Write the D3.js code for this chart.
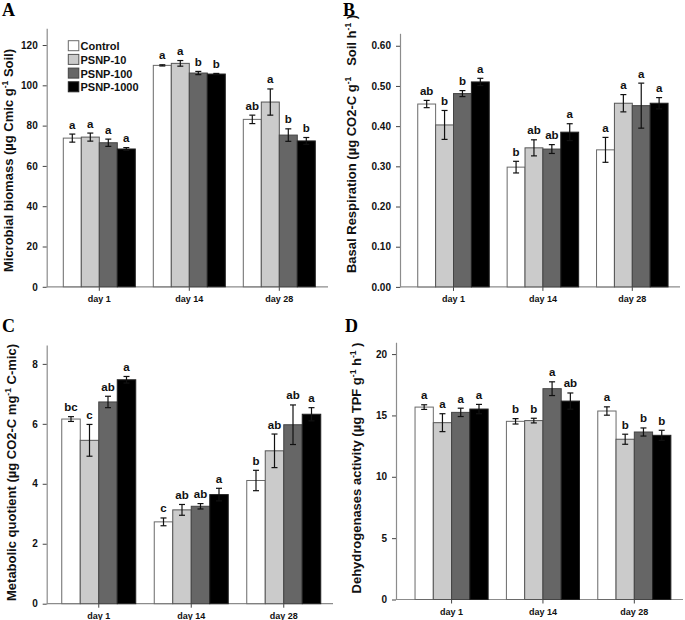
<!DOCTYPE html>
<html>
<head>
<meta charset="utf-8">
<script src="https://cdn.jsdelivr.net/npm/d3@7"></script>
<style>
  html, body { margin: 0; padding: 0; background: #fff; }
  text { white-space: pre; }
</style>
</head>
<body>
<script>
// ---------- DATA ----------
const days = ["day 1", "day 14", "day 28"];
const treatments = ["Control", "PSNP-10", "PSNP-100", "PSNP-1000"];

// A: Microbial biomass (rows = days, cols = treatments)
const biomassMean = [[73.8, 74.3, 71.5, 68.4], [109.9, 110.9, 106.1, 105.6], [83.1, 91.7, 75.3, 72.4]];
const biomassErr  = [[2.0, 2.0, 1.8, 0.7], [0.3, 1.4, 0.8, 0.3], [2.1, 6.5, 3.1, 1.7]];
const biomassSig  = [["a", "a", "a", "a"], ["a", "a", "b", "b"], ["ab", "a", "b", "b"]];
const biomassTicks = [0, 20, 40, 60, 80, 100, 120];

// B: Basal respiration
const respMean = [[0.455, 0.403, 0.481, 0.510], [0.298, 0.346, 0.343, 0.385], [0.341, 0.457, 0.451, 0.457]];
const respErr  = [[0.009, 0.036, 0.0075, 0.009], [0.0145, 0.020, 0.011, 0.021], [0.031, 0.0215, 0.056, 0.014]];
const respSig  = [["ab", "b", "b", "a"], ["b", "ab", "ab", "a"], ["a", "a", "a", "a"]];
const respTicks = [0, 0.1, 0.2, 0.3, 0.4, 0.5, 0.6];

// C: Metabolic quotient
const qMean = [[6.16, 5.45, 6.73, 7.47], [2.73, 3.13, 3.25, 3.64], [4.11, 5.10, 5.97, 6.32]];
const qErr  = [[0.08, 0.53, 0.19, 0.11], [0.13, 0.18, 0.09, 0.21], [0.34, 0.56, 0.66, 0.22]];
const qSig  = [["bc", "c", "ab", "a"], ["c", "ab", "ab", "a"], ["b", "ab", "ab", "a"]];
const qTicks = [0, 2, 4, 6, 8];

// D: Dehydrogenases activity
const dhMean = [[15.68, 14.41, 15.25, 15.52], [14.52, 14.58, 17.18, 16.17], [15.36, 13.06, 13.65, 13.38]];
const dhErr  = [[0.19, 0.73, 0.34, 0.38], [0.22, 0.19, 0.56, 0.66], [0.34, 0.41, 0.33, 0.41]];
const dhSig  = [["a", "a", "a", "a"], ["b", "b", "a", "ab"], ["a", "b", "b", "b"]];
const dhTicks = [0, 5, 10, 15, 20];

// ---------- STYLE / LAYOUT ----------
const fills = ["#ffffff", "#cbcbcb", "#666666", "#000000"];
const strokes = ["#6a6a6a", "#555555", "#444444", "#222222"];
const SANS = "'Liberation Sans', Arial, Helvetica, sans-serif";
const SERIF = "'Liberation Serif', 'Times New Roman', serif";

const panels = [
  { letter: "A", lx: 2, ly: 16, mean: biomassMean, err: biomassErr, sig: biomassSig, ticks: biomassTicks,
    fmt: d3.format("d"), top: 128.3, y0: 286.8, yTopPx: 28.3, axisX: 46.7, axisEnd: 328, xr: [54.3, 324.3],
    label: [["Microbial biomass (µg Cmic g", 0], ["-1", 1], [" Soil)", 0]], labX: 12.5, labY: 160.5, legend: true },
  { letter: "B", lx: 343, ly: 16, mean: respMean, err: respErr, sig: respSig, ticks: respTicks,
    fmt: d3.format(".2f"), top: 0.631, y0: 286.9, yTopPx: 33.3, axisX: 400, axisEnd: 680, xr: [408.8, 677],
    label: [["Basal Respiration (µg CO2-C g", 0], ["-1", 1], ["   Soil h", 0], ["-1", 1], [" )", 0]], labX: 355.5, labY: 144 },
  { letter: "C", lx: 2, ly: 332, mean: qMean, err: qErr, sig: qSig, ticks: qTicks,
    fmt: d3.format("d"), top: 8.63, y0: 603.7, yTopPx: 345, axisX: 46.7, axisEnd: 333, xr: [52.5, 330],
    label: [["Metabolic quotient (µg CO2-C mg", 0], ["-1", 1], [" C-mic)", 0]], labX: 15.6, labY: 472.5 },
  { letter: "D", lx: 345, ly: 331.5, mean: dhMean, err: dhErr, sig: dhSig, ticks: dhTicks,
    fmt: d3.format("d"), top: 20.96, y0: 599.5, yTopPx: 342.3, axisX: 396, axisEnd: 683, xr: [405.9, 680],
    label: [["Dehydrogenases activity (µg TPF g", 0], ["-1", 1], [" h", 0], ["-1", 1], [" )", 0]], labX: 360.6, labY: 468 }
];

const svg = d3.select("body").append("svg")
  .attr("width", 685).attr("height", 620)
  .style("font-family", SANS);

panels.forEach(p => {
  const g = svg.append("g");
  const x0 = d3.scaleBand().domain(days).range(p.xr).paddingInner(0.2).paddingOuter(0.1);
  const x1 = d3.scaleBand().domain(treatments).range([0, x0.bandwidth()]);
  const y = d3.scaleLinear().domain([0, p.top]).range([p.y0, p.yTopPx]);

  // Y axis
  const ya = g.append("g").attr("transform", `translate(${p.axisX},0)`)
    .call(d3.axisLeft(y).tickValues(p.ticks).tickFormat(p.fmt).tickSize(4).tickSizeOuter(0).tickPadding(5));
  ya.select(".domain").attr("stroke", "#8c8c8c").attr("stroke-width", 1.2);
  ya.selectAll(".tick line").attr("stroke", "#444");
  ya.selectAll(".tick text").attr("font-family", SANS).attr("font-size", "10px")
    .attr("font-weight", "bold").attr("fill", "#111");

  // X axis
  const xa = g.append("g").attr("transform", `translate(0,${p.y0})`)
    .call(d3.axisBottom(x0).tickSize(4).tickSizeOuter(0).tickPadding(5));
  xa.select(".domain").remove();
  xa.selectAll(".tick line").attr("stroke", "#444");
  xa.selectAll(".tick text").attr("font-family", SANS).attr("font-size", "9px")
    .attr("font-weight", "bold").attr("fill", "#111");
  g.append("line").attr("x1", p.axisX).attr("x2", p.axisEnd)
    .attr("y1", p.y0).attr("y2", p.y0).attr("stroke", "#8c8c8c").attr("stroke-width", 1.2);

  // Bars
  const rows = [];
  days.forEach((d, i) => treatments.forEach((t, j) => {
    rows.push({ day: d, t, j, v: p.mean[i][j], e: p.err[i][j], s: p.sig[i][j] });
  }));
  const bars = g.append("g");
  bars.selectAll("rect").data(rows).join("rect")
    .attr("x", r => x0(r.day) + x1(r.t))
    .attr("y", r => y(r.v))
    .attr("width", x1.bandwidth())
    .attr("height", r => y(0) - y(r.v))
    .attr("fill", r => fills[r.j])
    .attr("stroke", r => strokes[r.j])
    .attr("stroke-width", 1);

  // Error bars
  const eb = g.append("g").attr("stroke", "#111").attr("stroke-width", 1.2);
  rows.forEach(r => {
    const cx = x0(r.day) + x1(r.t) + x1.bandwidth() / 2;
    const yt = y(r.v + r.e), yb = y(r.v - r.e);
    eb.append("line").attr("x1", cx).attr("x2", cx).attr("y1", yt).attr("y2", yb);
    eb.append("line").attr("x1", cx - 3).attr("x2", cx + 3).attr("y1", yt).attr("y2", yt);
    eb.append("line").attr("x1", cx - 3).attr("x2", cx + 3).attr("y1", yb).attr("y2", yb);
  });

  // Significance letters
  g.append("g").selectAll("text").data(rows).join("text")
    .attr("x", r => x0(r.day) + x1(r.t) + x1.bandwidth() / 2)
    .attr("y", r => y(r.v + r.e) - 5.5)
    .attr("text-anchor", "middle")
    .attr("font-size", "11.5px").attr("font-weight", "bold").attr("fill", "#111")
    .text(r => r.s);

  // Y label
  const lab = g.append("text")
    .attr("transform", `translate(${p.labX},${p.labY}) rotate(-90)`)
    .attr("text-anchor", "middle")
    .attr("font-size", "13px").attr("font-weight", "bold").attr("fill", "#111");
  let raised = false;
  p.label.forEach(([s, sup]) => {
    const ts = lab.append("tspan").text(s);
    if (sup) { ts.attr("font-size", "8.5px").attr("dy", -5); raised = true; }
    else if (raised) { ts.attr("dy", 5); raised = false; }
  });

  // Panel letter
  g.append("text").attr("x", p.lx).attr("y", p.ly)
    .attr("font-family", SERIF).attr("font-weight", "bold").attr("font-size", "18px").attr("fill", "#000")
    .text(p.letter);

  // Legend
  if (p.legend) {
    const lg = g.append("g");
    treatments.forEach((t, j) => {
      const yy = 40.7 + j * 13.7;
      lg.append("rect").attr("x", 68.3).attr("y", yy).attr("width", 10.5).attr("height", 10)
        .attr("fill", fills[j]).attr("stroke", strokes[j]).attr("stroke-width", 1);
      lg.append("text").attr("x", 80.5).attr("y", yy + 9.6)
        .attr("font-size", "11px").attr("font-weight", "bold").attr("fill", "#111").text(t);
    });
  }
});
</script>
</body>
</html>
